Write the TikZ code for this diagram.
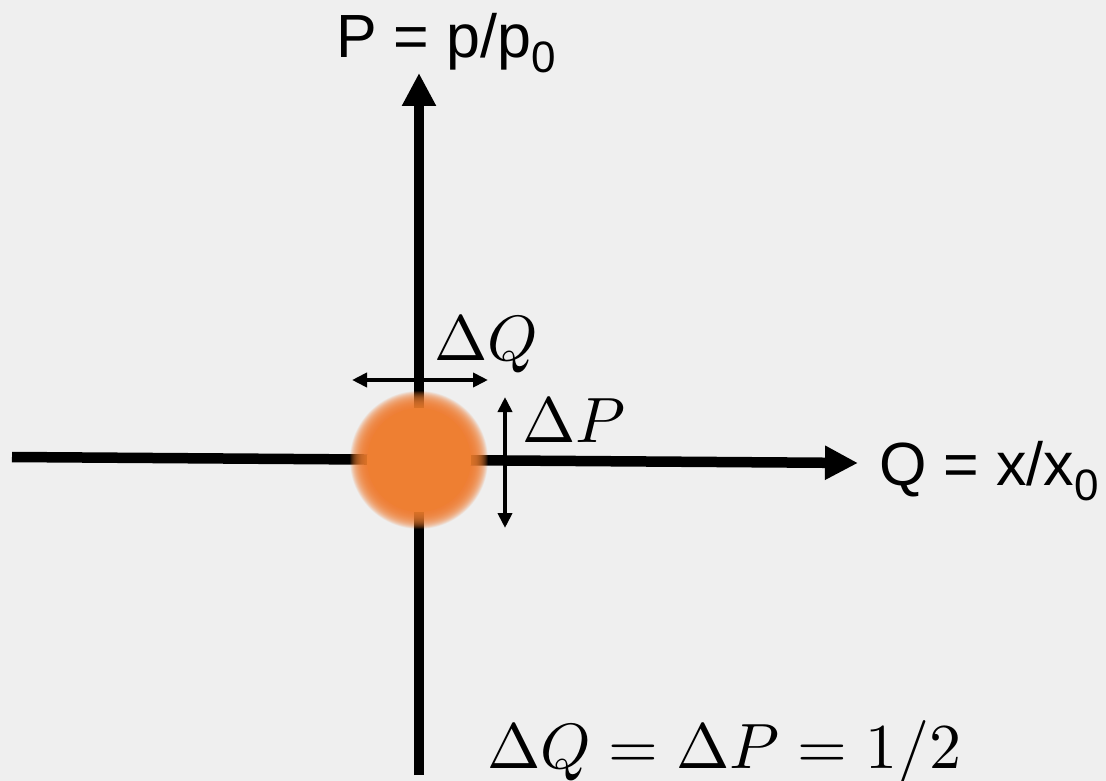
\documentclass[tikz,border=0pt]{standalone}
\usepackage{graphicx}
\usepackage{fontspec}
\newfontfamily\arial{Liberation Sans}
\usetikzlibrary{arrows.meta}
\definecolor{bg}{RGB}{239,239,239}
\definecolor{blobc}{RGB}{238,127,50}
\newcommand{\myhugemath}[1]{\scalebox{6.4}{$#1$}}
\begin{document}
\begin{tikzpicture}[x=1pt,y=-1pt,
 axis/.style={line width=10.5pt, -{Triangle[length=33pt,width=32pt]}},
 delta/.style={line width=4pt,{Triangle[length=15pt,width=14pt]}-{Triangle[length=15pt,width=14pt]}},
 lab/.style={font=\arial\fontsize{61}{63}\selectfont, anchor=base west, inner sep=0pt},
 mlab/.style={anchor=base west, inner sep=0pt}]
\fill[bg] (0,0) rectangle (1106,781);
\useasboundingbox (0,0) rectangle (1106,781);
% axes
\coordinate (hl) at (12,457);
\coordinate (hr) at (858,463);
\coordinate (vt) at (419,73);
\coordinate (vb) at (419,775);
\draw[axis] (hl) -- (hr);
\draw[axis] (vb) -- (vt);
% blob
\coordinate (c) at (419,460);
\foreach \r in {69,68.5,...,53} \fill[blobc, opacity=0.08] (c) circle (\r pt);
\fill[blobc] (c) circle (52pt);
% delta arrows
\coordinate (dql) at (352,380);
\coordinate (dqr) at (488,380);
\coordinate (dpt) at (505,397);
\coordinate (dpb) at (505,528);
\draw[delta] (dql) -- (dqr);
\draw[delta] (dpt) -- (dpb);
% labels
\node[lab] (plab) at (336,58) {P = p/p\raisebox{-15pt}{\fontsize{44}{46}\selectfont 0}};
\node[lab] (qlab) at (879,485) {Q = x/x\raisebox{-15pt}{\fontsize{44}{46}\selectfont 0}};
\node[mlab] (dq) at (434,360) {\myhugemath{\Delta Q}};
\node[mlab] (dp) at (522,442) {\myhugemath{\Delta P}};
\node[mlab] (eq) at (487,768) {\myhugemath{\Delta Q = \Delta P = 1/2}};
\end{tikzpicture}
\end{document}
